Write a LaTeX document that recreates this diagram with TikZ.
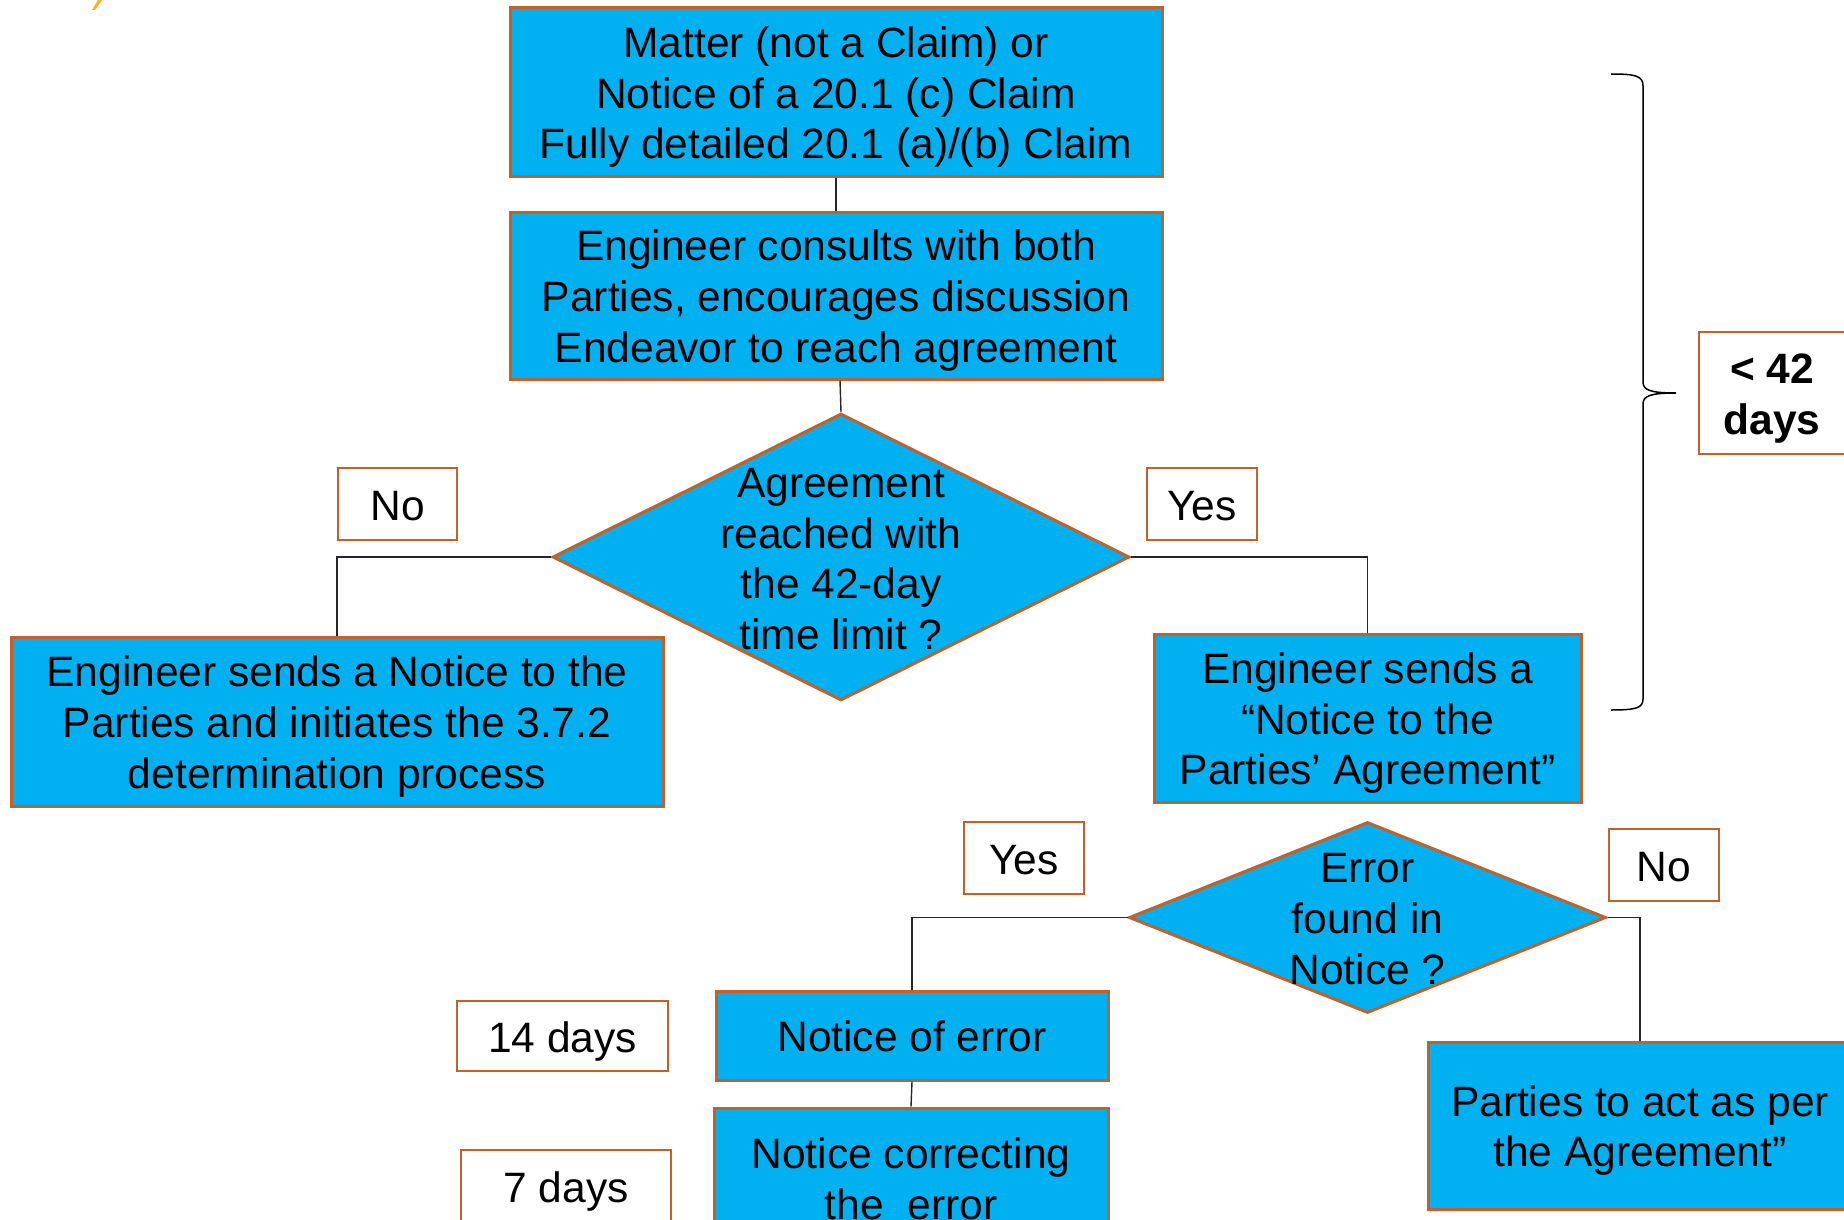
\documentclass[tikz,border=0pt]{standalone}
\usepackage{fontspec}
\setmainfont{Liberation Sans}
\usetikzlibrary{shapes.geometric}
\definecolor{boxfill}{HTML}{00B0F0}
\definecolor{boxline}{HTML}{C0622A}
\definecolor{cornermark}{HTML}{FFB020}
\newcommand{\ts}{\rule{0pt}{41pt}}
\newcommand{\bs}{\rule[-9pt]{0pt}{9pt}}
\begin{document}
\begin{tikzpicture}[x=1pt,y=-1pt,
  every node/.style={font=\fontsize{42.5pt}{50.6pt}\selectfont, align=center, inner sep=0pt, text=black},
  box/.style={draw=boxline, line width=3pt, fill=boxfill, rectangle},
  tag/.style={draw=boxline, line width=2pt, fill=white, rectangle},
  dia/.style={draw=boxline, line width=3pt, fill=boxfill, diamond, inner sep=0pt},
  link/.style={draw=black!85, line width=1.4pt}]
\useasboundingbox (0,0) rectangle (1844,1220);
\clip (0,0) rectangle (1844,1220);
% small mark at top left
\fill[cornermark] (92,10) -- (98,0) -- (102,0) -- (95,10) -- cycle;
% main boxes
\node[box, minimum width=652pt, minimum height=168pt] (b1) at (836,92)
  {\ts Matter (not a Claim) or\\Notice of a 20.1 (c) Claim\\Fully detailed 20.1 (a)/(b) Claim\bs};
\node[box, minimum width=652pt, minimum height=167pt] (b2) at (836,295.5)
  {\ts Engineer consults with both\\Parties, encourages discussion\\Endeavor to reach agreement\bs};
\node[dia, minimum width=577pt, minimum height=287pt] (d1) at (841,557) {};
\node (d1t) at (841,559) {Agreement\\reached with\\the 42-day\\time limit ?};
\node[box, minimum width=652pt, minimum height=169pt] (lb) at (337,721.5)
  {\ts Engineer sends a Notice to the\\Parties and initiates the 3.7.2\\determination process\bs};
\node[box, minimum width=427pt, minimum height=168pt] (rb) at (1367.5,718)
  {\ts Engineer sends a\\“Notice to the\\Parties’ Agreement”\bs};
\node[dia, minimum width=477pt, minimum height=191pt] (d2) at (1367.5,917.5) {};
\node (d2t) at (1367.5,919) {Error\\found in\\Notice ?};
\node[box, minimum width=392pt, minimum height=89pt] (ne) at (912,1035.5) {\ts Notice of error\bs};
\node[box, minimum width=394pt, minimum height=140pt] (nc) at (911,1178) {\ts Notice correcting\\the~ error\bs};
\node[box, minimum width=424pt, minimum height=167pt] (pa) at (1640,1125.5) {\ts Parties to act as per\\the Agreement”\bs};
% tags
\node[tag, minimum width=119pt, minimum height=72pt] (no1) at (397.5,504) {\ts No\bs};
\node[tag, minimum width=110pt, minimum height=72pt] (yes1) at (1202,504) {\ts Yes\bs};
\node[tag, minimum width=120pt, minimum height=72pt] (yes2) at (1024,858) {\ts Yes\bs};
\node[tag, minimum width=110pt, minimum height=72pt] (no2) at (1664,865) {\ts No\bs};
\node[tag, minimum width=211pt, minimum height=70pt] (d14) at (562.5,1036) {\ts 14 days\bs};
\node[tag, minimum width=210pt, minimum height=72pt] (d7) at (566,1186) {\ts 7 days\bs};
\node[tag, minimum width=146pt, minimum height=122pt, font=\bfseries\fontsize{42.5pt}{50.6pt}\selectfont] (d42) at (1772,393) {\ts < 42\\days\bs};
% connectors
\draw[link] (b1.south) -- (b2.north);
\draw[link] ([xshift=4pt]b2.south) -- (d1.north);
\draw[link] (d1.west) -| (lb.north);
\draw[link] (d1.east) -| (rb.north);
\draw[link] (d2.west) -| (ne.north);
\draw[link] (ne.south) -- (nc.north);
\draw[link] (d2.east) -| (pa.north);
% brace
\coordinate (bt) at (1611,74);
\coordinate (bm) at (1676,393);
\coordinate (bb) at (1611,710);
\draw[line width=1.5pt, black] (bt) .. controls (1636,74) and (1643,76) .. (1643,86)
  -- (1643,382) .. controls (1643,390) and (1650,393) .. (bm)
  .. controls (1650,393) and (1643,396) .. (1643,404)
  -- (1643,699) .. controls (1643,708) and (1636,710) .. (bb);
\end{tikzpicture}
\end{document}
